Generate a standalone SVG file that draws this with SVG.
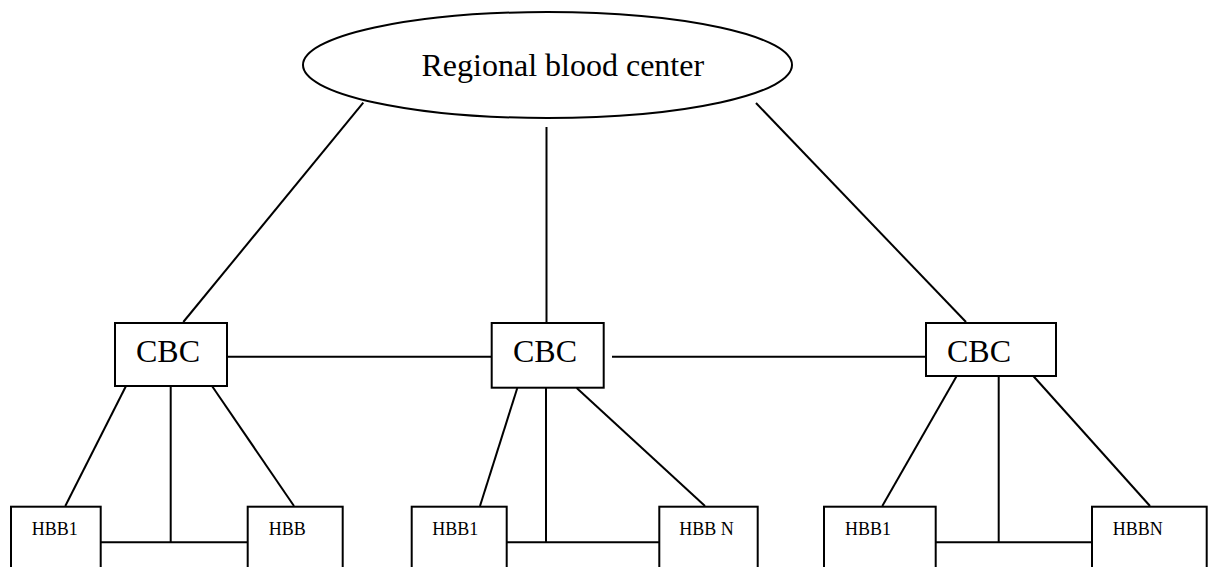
<svg xmlns="http://www.w3.org/2000/svg" width="1215" height="567" viewBox="0 0 1215 567">
<style>
.n{fill:#fff;stroke:#000;stroke-width:2}
.c line{stroke:#000;stroke-width:2}
.t{font-family:"Liberation Serif","Times New Roman",serif;fill:#000}
.big{font-size:32px}
.sm{font-size:18px}
</style>
<rect width="1215" height="567" fill="#fff"/>
<g id="connectors" class="c">
<line x1="363.3" y1="102.7" x2="183.3" y2="322"/>
<line x1="546.5" y1="127" x2="546.5" y2="322"/>
<line x1="756" y1="103" x2="966" y2="322"/>
<line x1="227" y1="356.7" x2="491.7" y2="356.7"/>
<line x1="612" y1="356.7" x2="926" y2="356.7"/>
<line x1="126" y1="386" x2="65.3" y2="506"/>
<line x1="170.7" y1="386" x2="170.7" y2="542.3"/>
<line x1="212" y1="386" x2="294" y2="506"/>
<line x1="100.7" y1="542.3" x2="247.7" y2="542.3"/>
<line x1="517.3" y1="388" x2="480" y2="506"/>
<line x1="546" y1="388" x2="546" y2="542.3"/>
<line x1="576.7" y1="388" x2="705" y2="506"/>
<line x1="506.7" y1="542.3" x2="659.3" y2="542.3"/>
<line x1="956.7" y1="376" x2="882.3" y2="506"/>
<line x1="998.7" y1="376" x2="998.7" y2="542.3"/>
<line x1="1033.3" y1="376" x2="1150" y2="506"/>
<line x1="935.7" y1="542.3" x2="1092" y2="542.3"/>
</g>
<g id="rbc">
<ellipse class="n" cx="547.5" cy="65" rx="244.5" ry="53"/>
<text class="t big" x="421.5" y="76">Regional blood center</text>
</g>
<g id="cbc1">
<rect class="n" x="115" y="323" width="112" height="63"/>
<text class="t big" x="136" y="362">CBC</text>
</g>
<g id="cbc2">
<rect class="n" x="491.7" y="323" width="112" height="64.7"/>
<text class="t big" x="513" y="362">CBC</text>
</g>
<g id="cbc3">
<rect class="n" x="926" y="323" width="130" height="53"/>
<text class="t big" x="947" y="362">CBC</text>
</g>
<g id="hbb1a">
<rect class="n" x="11" y="506.7" width="89.7" height="80"/>
<text class="t sm" x="31.7" y="535">HBB1</text>
</g>
<g id="hbb1b">
<rect class="n" x="247.7" y="506.7" width="95" height="80"/>
<text class="t sm" x="268.7" y="535">HBB</text>
</g>
<g id="hbb2a">
<rect class="n" x="411.7" y="506.7" width="95" height="80"/>
<text class="t sm" x="432.3" y="535">HBB1</text>
</g>
<g id="hbb2b">
<rect class="n" x="659.3" y="506.7" width="98.4" height="80"/>
<text class="t sm" x="679.3" y="535">HBB N</text>
</g>
<g id="hbb3a">
<rect class="n" x="824" y="506.7" width="111.7" height="80"/>
<text class="t sm" x="845" y="535">HBB1</text>
</g>
<g id="hbb3b">
<rect class="n" x="1092" y="506.7" width="114.7" height="80"/>
<text class="t sm" x="1112.7" y="535">HBBN</text>
</g>
</svg>
